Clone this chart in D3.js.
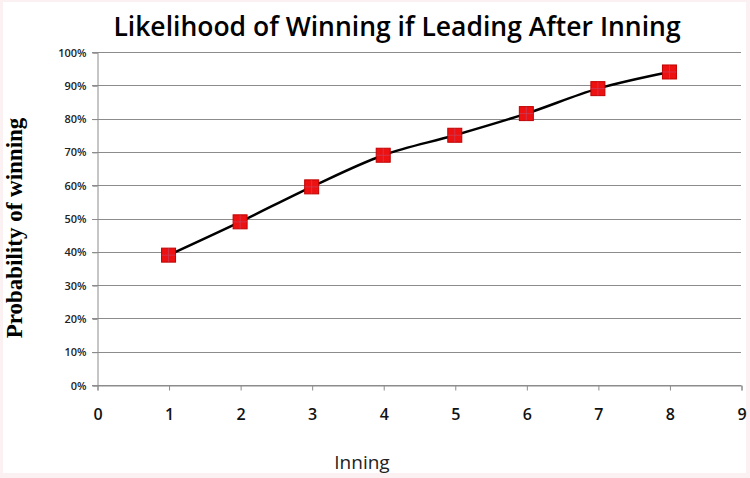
<!DOCTYPE html>
<html>
<head>
<meta charset="utf-8">
<script src="https://cdn.jsdelivr.net/npm/d3@7"></script>
<style>
  body { margin: 0; background: #fcf1f2; }
  svg { display: block; }
</style>
</head>
<body>
<svg id="chart" width="750" height="478"></svg>
<script>
// data
var innings = [1, 2, 3, 4, 5, 6, 7, 8]
var winProb = [0.39, 0.49, 0.595, 0.69, 0.75, 0.815, 0.89, 0.94]
var xTicks = [0, 1, 2, 3, 4, 5, 6, 7, 8, 9]
var yTicks = [0, 0.1, 0.2, 0.3, 0.4, 0.5, 0.6, 0.7, 0.8, 0.9, 1]

var W = 750, H = 478
var plotLeft = 97, plotRight = 741, plotTop = 52, plotBottom = 385

var svg = d3.select('#chart')

svg.append('rect')
  .attr('x', 3).attr('y', 2)
  .attr('width', W - 7).attr('height', H - 7)
  .attr('fill', '#fff')

var x = d3.scaleLinear().domain([0, 9]).range([plotLeft, plotRight])
var y = d3.scaleLinear().domain([0, 1]).range([plotBottom, plotTop])

// gridlines
svg.append('g')
  .selectAll('line')
  .data(yTicks)
  .enter()
  .append('line')
  .attr('x1', plotLeft - 5)
  .attr('x2', plotRight)
  .attr('y1', function(d) { return Math.round(y(d)) + 0.5 })
  .attr('y2', function(d) { return Math.round(y(d)) + 0.5 })
  .attr('stroke', '#8c8c8c')
  .attr('stroke-width', 1)

// y axis
var yAxis = svg.append('g')
  .attr('transform', 'translate(' + (plotLeft + 0.5) + ',0.5)')
  .call(d3.axisLeft(y).tickValues(yTicks).tickFormat(d3.format('.0%')).tickSize(5).tickPadding(6))
yAxis.select('.domain').attr('stroke', '#8c8c8c')
yAxis.selectAll('.tick line').attr('stroke', '#8c8c8c')
yAxis.selectAll('text')
  .attr('font-family', 'Open Sans, sans-serif')
  .attr('font-size', 11)
  .attr('font-weight', 600)
  .attr('fill', '#222')

// x axis
var xAxis = svg.append('g')
  .attr('transform', 'translate(0.5,' + (plotBottom + 0.5) + ')')
  .call(d3.axisBottom(x).tickValues(xTicks).tickFormat(d3.format('d')).tickSize(5).tickPadding(18))
xAxis.select('.domain').attr('stroke', '#8c8c8c')
xAxis.selectAll('.tick line').attr('stroke', '#8c8c8c')
xAxis.selectAll('text')
  .attr('font-family', 'Open Sans, sans-serif')
  .attr('font-size', 16)
  .attr('font-weight', 600)
  .attr('fill', '#111')

// line
var line = d3.line()
  .x(function(d, i) { return x(innings[i]) })
  .y(function(d) { return y(d) })
  .curve(d3.curveCatmullRom.alpha(0.5))

svg.append('path')
  .datum(winProb)
  .attr('d', line)
  .attr('fill', 'none')
  .attr('stroke', '#000')
  .attr('stroke-width', 2.5)

// markers
var S = 14
var marks = svg.append('g')
  .selectAll('g')
  .data(winProb)
  .enter()
  .append('g')
  .attr('transform', function(d, i) { return 'translate(' + x(innings[i]) + ',' + y(d) + ')' })
marks.append('rect')
  .attr('x', -S / 2).attr('y', -S / 2)
  .attr('width', S).attr('height', S)
  .attr('fill', '#ee1111')
  .attr('stroke', '#c00000')
  .attr('stroke-width', 1)
marks.append('path')
  .attr('d', 'M0,' + (-S / 2) + 'V' + (S / 2) + 'M' + (-S / 2) + ',0H' + (S / 2))
  .attr('stroke', '#b05a8a')
  .attr('stroke-width', 0.8)
  .attr('opacity', 0.6)

// title and labels
svg.append('text')
  .attr('x', 397).attr('y', 36)
  .attr('text-anchor', 'middle')
  .attr('font-family', 'Open Sans, sans-serif')
  .attr('font-size', 26.5)
  .attr('font-weight', 600)
  .attr('fill', '#000')
  .text('Likelihood of Winning if Leading After Inning')

svg.append('text')
  .attr('x', 362).attr('y', 469)
  .attr('text-anchor', 'middle')
  .attr('font-family', 'Open Sans, sans-serif')
  .attr('font-size', 19)
  .attr('fill', '#222')
  .text('Inning')

svg.append('text')
  .attr('transform', 'translate(22,228) rotate(-90)')
  .attr('text-anchor', 'middle')
  .attr('font-family', 'Liberation Serif, serif')
  .attr('font-size', 23)
  .attr('font-weight', 'bold')
  .attr('fill', '#000')
  .text('Probability of winning')
</script>
</body>
</html>
